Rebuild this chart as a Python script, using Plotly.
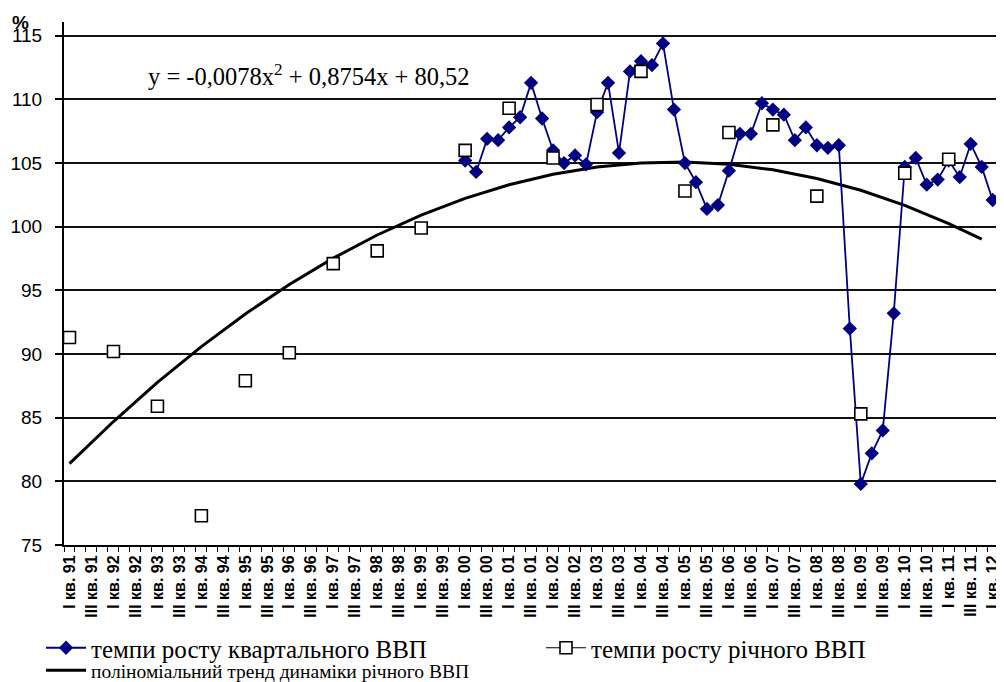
import plotly.graph_objects as go

# ---------------- data ----------------
quarter_names = ["I", "II", "III", "IV"]
years = ["91", "92", "93", "94", "95", "96", "97", "98", "99", "00",
         "01", "02", "03", "04", "05", "06", "07", "08", "09", "10", "11"]
categories = [f"{q} кв. {y}" for y in years for q in quarter_names] + ["I кв. 12", "II кв. 12"]

# tick labels: only I and III quarters are labelled
tick_text = [c if c.split(" ")[0] in ("I", "III") else "" for c in categories]

# annual GDP growth (plotted at the I quarter of each year)
annual_x = ["I кв. 91", "I кв. 92", "I кв. 93", "I кв. 94", "I кв. 95", "I кв. 96",
            "I кв. 97", "I кв. 98", "I кв. 99", "I кв. 00", "I кв. 01", "I кв. 02",
            "I кв. 03", "I кв. 04", "I кв. 05", "I кв. 06", "I кв. 07", "I кв. 08",
            "I кв. 09", "I кв. 10", "I кв. 11"]
annual_y = [91.3, 90.2, 85.9, 77.3, 87.9, 90.1, 97.1, 98.1, 99.9, 106.0, 109.3,
            105.4, 109.6, 112.2, 102.8, 107.4, 108.0, 102.4, 85.3, 104.2, 105.3]

# quarterly GDP growth, I кв. 00 .. II кв. 12
quarterly_start = "I кв. 00"
quarterly_y = [105.2, 104.3, 106.9, 106.8,   # 2000
               107.8, 108.6, 111.3, 108.5,   # 2001
               106.0, 105.0, 105.6, 104.9,   # 2002
               109.0, 111.3, 105.8, 112.2,   # 2003
               113.0, 112.7, 114.4, 109.2,   # 2004
               105.0, 103.5, 101.4, 101.7,   # 2005
               104.4, 107.3, 107.3, 109.7,   # 2006
               109.2, 108.8, 106.8, 107.8,   # 2007
               106.4, 106.2, 106.4, 92.0,    # 2008
               79.8, 82.2, 84.0, 93.2,       # 2009
               104.7, 105.4, 103.3, 103.7,   # 2010
               105.2, 103.9, 106.5, 104.7,   # 2011
               102.1, 103.1]                 # 2012
quarterly_x = categories[categories.index(quarterly_start):][:len(quarterly_y)]

# polynomial trend of the annual series: y = -0,0078x^2 + 0,8754x + 80,52
trend_x = annual_x + ["IV кв. 11"]
trend_y = [81.39, 84.70, 87.77, 90.58, 93.15, 95.46, 97.53, 99.35, 100.91, 102.23,
           103.30, 104.12, 104.69, 105.01, 105.08, 104.90, 104.47, 103.79, 102.86,
           101.68, 100.25, 99.02]

y_ticks = [75, 80, 85, 90, 95, 100, 105, 110, 115]

name_q = "темпи росту квартального ВВП"
name_a = "темпи росту річного ВВП"
name_t = "поліноміальний тренд динаміки річного ВВП"
equation = "y = -0,0078x<sup>2</sup> + 0,8754x + 80,52"

# ---------------- figure ----------------
# the page body has an 8 px margin, so the figure is drawn at (8, 8) of the window
OFF = 8
W, H = 1004 - OFF, 682 - OFF
ml, mr, mt, mb = 64 - OFF, 0, 22 - OFF, 137
pw, ph = W - ml - mr, H - mt - mb


def wx(p):
    """window x pixel -> paper x"""
    return (p - OFF - ml) / pw


def wy(p):
    """window y pixel -> paper y"""
    return (H - mb - (p - OFF)) / ph


SERIF = "Liberation Serif, Times New Roman, serif"
SANS = "Liberation Sans, Arial, sans-serif"

fig = go.Figure()

fig.add_trace(go.Scatter(
    x=trend_x, y=trend_y, mode="lines", name=name_t, legend="legend2",
    line=dict(color="black", width=3)))

fig.add_trace(go.Scatter(
    x=quarterly_x, y=quarterly_y, mode="lines+markers", name=name_q,
    line=dict(color="#000080", width=1.8),
    marker=dict(symbol="diamond", size=11, color="#000080"), legendrank=1))

fig.add_trace(go.Scatter(
    x=annual_x, y=annual_y, mode="markers", name=name_a, showlegend=False,
    marker=dict(symbol="square", size=12, color="white",
                line=dict(color="black", width=1.6))))

# legend entry for the annual series (line + square, as in the original legend)
fig.add_trace(go.Scatter(
    x=[None], y=[None], mode="lines+markers", name=name_a,
    line=dict(color="black", width=1.2),
    marker=dict(symbol="square", size=12, color="white",
                line=dict(color="black", width=1.6)), legendrank=2))

fig.update_layout(
    width=W, height=H,
    margin=dict(l=ml, r=mr, t=mt, b=mb, autoexpand=False),
    paper_bgcolor="white", plot_bgcolor="white",
    showlegend=True,
    legend=dict(orientation="h", x=wx(41), y=wy(648), xanchor="left", yanchor="middle",
                font=dict(family=SERIF, size=25, color="black"),
                entrywidth=445, entrywidthmode="pixels",
                itemwidth=40, tracegroupgap=0, bgcolor="rgba(0,0,0,0)"),
    legend2=dict(orientation="h", x=wx(41), y=wy(670.5), xanchor="left", yanchor="middle",
                 font=dict(family=SERIF, size=19.5, color="black"),
                 itemwidth=40, bgcolor="rgba(0,0,0,0)"),
    xaxis=dict(type="category", categoryorder="array", categoryarray=categories,
               range=[-0.5, 85.03], tickmode="array", tickvals=categories, ticktext=tick_text,
               tickson="boundaries", ticks="outside", ticklen=5, tickwidth=1.2, tickcolor="black",
               tickangle=-90, tickfont=dict(family=SANS, size=16, color="black", weight="bold"),
               showline=True, linecolor="black", linewidth=2, showgrid=False,
               zeroline=False, automargin=False, ticklabelstandoff=2),
    yaxis=dict(range=[75, 116.08], tickmode="array", tickvals=y_ticks,
               ticks="outside", ticklen=7, tickwidth=1.5, tickcolor="black",
               tickfont=dict(family=SANS, size=19, color="black"),
               showline=True, linecolor="black", linewidth=2,
               showgrid=True, gridcolor="#111111", gridwidth=1.6,
               zeroline=False, automargin=False, ticklabelstandoff=9),
)

fig.add_annotation(text=equation, xref="paper", yref="paper",
                   x=wx(308.5), y=wy(75), xanchor="center", yanchor="middle",
                   showarrow=False, font=dict(family=SERIF, size=24.5, color="black"))

fig.add_annotation(text="<b>%</b>", xref="paper", yref="paper",
                   x=wx(20), y=wy(22), xanchor="center", yanchor="middle",
                   showarrow=False, font=dict(family=SANS, size=19, color="black"))

fig.write_html("out.html")
